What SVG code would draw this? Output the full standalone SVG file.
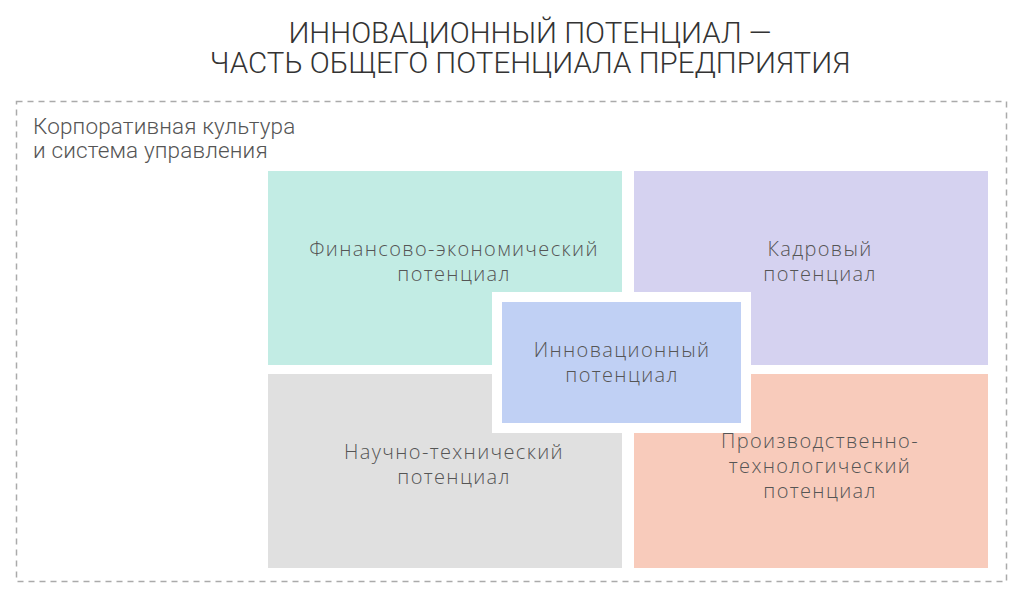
<svg xmlns="http://www.w3.org/2000/svg" width="1024" height="598" viewBox="0 0 1024 598">
<style>
.title{font-family:Roboto,"Liberation Sans",sans-serif;font-weight:300;font-size:29.5px;fill:#333;text-anchor:middle}
.lbl{font-family:Roboto,"Liberation Sans",sans-serif;font-weight:300;font-size:22.5px;letter-spacing:0.15px;fill:#555}
.node{font-family:"Open Sans","Liberation Sans",sans-serif;font-weight:300;font-size:20px;letter-spacing:1.35px;fill:#555;text-anchor:middle}
</style>
<rect width="1024" height="598" fill="#fff"/>
<g id="title">
<text class="title" x="530" y="43">ИННОВАЦИОННЫЙ ПОТЕНЦИАЛ —</text>
<text class="title" x="530" y="73">ЧАСТЬ ОБЩЕГО ПОТЕНЦИАЛА ПРЕДПРИЯТИЯ</text>
</g>
<g id="frame">
<rect x="16.5" y="101.5" width="990" height="480" fill="none" stroke="#aaa" stroke-width="1.5" stroke-dasharray="6,5"/>
<text class="lbl" x="33" y="134">Корпоративная культура</text>
<text class="lbl" x="33" y="158">и система управления</text>
</g>
<g id="fin">
<rect x="268" y="171" width="354" height="194" fill="#c2ece4"/>
<text class="node" x="454" y="256">Финансово-экономический</text>
<text class="node" x="454" y="281">потенциал</text>
</g>
<g id="kadr">
<rect x="634" y="171" width="354" height="194" fill="#d5d2f0"/>
<text class="node" x="820" y="256">Кадровый</text>
<text class="node" x="820" y="281">потенциал</text>
</g>
<g id="nauch">
<rect x="268" y="374" width="354" height="194" fill="#e0e0e0"/>
<text class="node" x="454" y="459">Научно-технический</text>
<text class="node" x="454" y="484">потенциал</text>
</g>
<g id="proizv">
<rect x="634" y="374" width="354" height="194" fill="#f8cbbb"/>
<text class="node" x="820" y="448">Производственно-</text>
<text class="node" x="820" y="473">технологический</text>
<text class="node" x="820" y="498">потенциал</text>
</g>
<g id="innov">
<rect x="492" y="292" width="259" height="141" fill="#fff"/>
<rect x="502" y="302" width="239" height="121" fill="#c0d0f4"/>
<text class="node" x="622" y="357">Инновационный</text>
<text class="node" x="622" y="382">потенциал</text>
</g>
<g id="connectors"/>
</svg>
